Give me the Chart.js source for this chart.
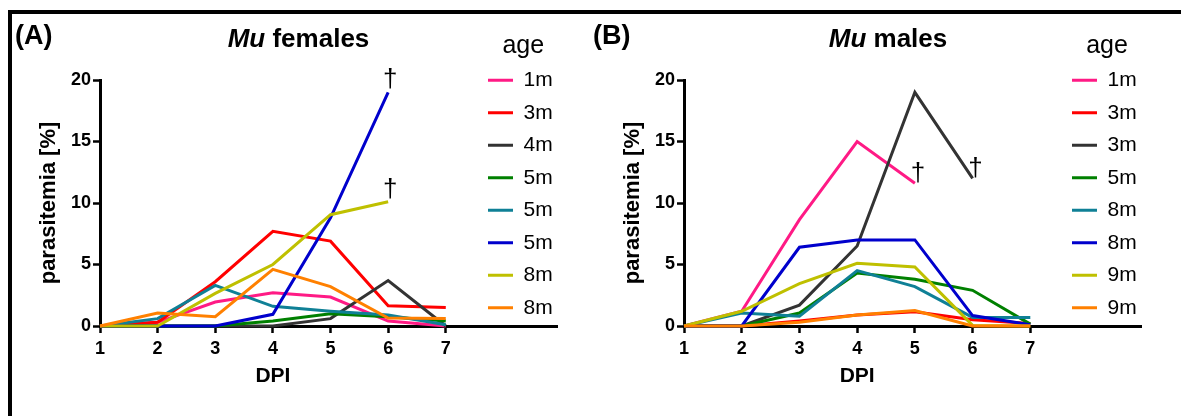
<!DOCTYPE html>
<html><head><meta charset="utf-8">
<script src="https://cdn.jsdelivr.net/npm/chart.js@4.4.1/dist/chart.umd.min.js"></script>
<style>
html,body{margin:0;padding:0;background:#fff;width:1181px;height:416px;overflow:hidden;}
#frame{position:absolute;left:8px;top:10px;width:1200px;height:420px;border-top:4px solid #000;border-left:4.5px solid #000;box-sizing:border-box;}
#ca{position:absolute;left:0;top:0;}
#cb{position:absolute;left:584px;top:0;}
</style></head><body>
<div id="frame"></div>
<canvas id="ca" width="584" height="416"></canvas>
<canvas id="cb" width="597" height="416"></canvas>
<script>
// ---------- data ----------
const days = [1, 2, 3, 4, 5, 6, 7];
const yTicks = [0, 5, 10, 15, 20];
const seriesColors = ['#ff1a85', '#ff0000', '#333333', '#008000', '#0f8096', '#0000cc', '#bfc000', '#ff8000'];

// (A) Mu females
const femaleAges = ['1m', '3m', '4m', '5m', '5m', '5m', '8m', '8m'];
const f_1m  = [0, 0.3, 1.95, 2.7, 2.35, 0.4, 0];
const f_3m  = [0, 0.3, 3.6, 7.7, 6.9, 1.65, 1.5];
const f_4m  = [0, 0, 0, 0, 0.6, 3.7, 0];
const f_5a  = [0, 0, 0, 0.4, 1.0, 0.75, 0.4];
const f_5b  = [0, 0.6, 3.3, 1.6, 1.2, 0.9, 0.1];
const f_5c  = [0, 0, 0, 0.95, 8.8, 19, null];
const f_8a  = [0, 0, 2.65, 5.0, 9.05, 10.1, null];
const f_8b  = [0, 1.05, 0.75, 4.6, 3.2, 0.65, 0.6];
const femaleSeries = [f_1m, f_3m, f_4m, f_5a, f_5b, f_5c, f_8a, f_8b];
const femaleDied = [5, 6];   // series marked with a dagger

// (B) Mu males
const maleAges = ['1m', '3m', '3m', '5m', '8m', '8m', '9m', '9m'];
const m_1m  = [0, 1.2, 8.65, 15, 11.6, null, null];
const m_3a  = [0, 0, 0.4, 0.9, 1.15, 0.5, 0.2];
const m_3b  = [0, 0, 1.7, 6.5, 19, 12, null];
const m_5m  = [0, 0, 1.05, 4.3, 3.8, 2.9, 0.15];
const m_8a  = [0, 1.05, 0.8, 4.5, 3.2, 0.7, 0.7];
const m_8b  = [0, 0, 6.4, 7.0, 7.0, 0.85, 0.1];
const m_9a  = [0, 1.2, 3.45, 5.1, 4.8, 0.05, 0];
const m_9b  = [0, 0, 0.3, 0.9, 1.25, 0, 0];
const maleSeries = [m_1m, m_3a, m_3b, m_5m, m_8a, m_8b, m_9a, m_9b];
const maleDied = [0, 2];

// ---------- drawing ----------
const FAM = '"Liberation Sans", Arial, Helvetica, sans-serif';

const panelPlugin = {
  id: 'panel',
  beforeDraw(chart, args, o) {
    const lg = chart.legend, ca = chart.chartArea;
    const pad = chart.options.plugins.legend.labels.padding;
    const left = ca.left + o.legendBoxX - pad;
    lg.left = left;
    lg.width = 2 * (ca.left + o.legendTitleX - left);
    lg.right = left + lg.width;
    lg.top = o.legendTop;
    lg.height = 380;
    lg.bottom = lg.top + lg.height;
  },
  afterDraw(chart, args, o) {
    const ctx = chart.ctx, xs = chart.scales.x;
    ctx.save();
    ctx.fillStyle = '#000';
    ctx.textBaseline = 'alphabetic';
    // panel letter
    ctx.font = 'bold 27px ' + FAM;
    ctx.textAlign = 'left';
    ctx.fillText(o.letter, o.letterX, o.letterY);
    // title: italic "Mu" + bold rest
    const f1 = 'italic bold 26px ' + FAM, f2 = 'bold 26px ' + FAM;
    ctx.font = f1; const w1 = ctx.measureText(o.titleItalic).width;
    ctx.font = f2; const w2 = ctx.measureText(o.titleRest).width;
    const tx = o.titleX - (w1 + w2) / 2;
    ctx.font = f1; ctx.fillText(o.titleItalic, tx, o.titleY);
    ctx.font = f2; ctx.fillText(o.titleRest, tx + w1, o.titleY);
    // x axis title centred on the DPI range
    ctx.font = 'bold 21px ' + FAM;
    ctx.textAlign = 'center';
    ctx.fillText(o.xTitle, xs.getPixelForValue((days[0] + days[days.length - 1]) / 2), o.xTitleY);
    // daggers at the last point of series that died
    ctx.font = '26px ' + FAM;
    o.died.forEach(i => {
      const pts = chart.getDatasetMeta(i).data;
      const p = pts[pts.length - 1];
      ctx.fillText('\u2020', p.x + o.daggerDx, p.y + o.daggerDy);
    });
    ctx.restore();
  }
};

function makeChart(id, ages, series, panel) {
  const n = series.length;
  const datasets = series.map((vals, i) => ({
    label: ages[i],
    data: days.map((d, k) => ({ x: d, y: vals[k] })).filter(p => p.y !== null),
    borderColor: seriesColors[i],
    backgroundColor: seriesColors[i],
    borderWidth: 3,
    pointRadius: 0,
    tension: 0,
    fill: false,
    clip: false,
    order: n - i
  }));
  const tickFont = { family: FAM, size: 18, weight: 'bold' };
  const grid = { drawOnChartArea: false, drawTicks: true, tickLength: 7, tickWidth: 2.5, tickColor: '#000', color: '#000' };
  const border = { display: true, color: '#000', width: 3 };
  return new Chart(document.getElementById(id), {
    type: 'line',
    data: { datasets },
    options: {
      responsive: false,
      animation: false,
      events: [],
      layout: { padding: { top: 80, right: panel.padRight, bottom: 0, left: 0 } },
      scales: {
        x: {
          type: 'linear', min: 1, max: 8.93,
          afterBuildTicks: s => { s.ticks = days.map(v => ({ value: v })); },
          afterFit: s => { s.height = 90; },
          ticks: { font: tickFont, color: '#000', padding: 5, maxRotation: 0, autoSkip: false },
          grid, border
        },
        y: {
          min: 0, max: 20,
          afterBuildTicks: s => { s.ticks = yTicks.map(v => ({ value: v })); },
          afterFit: s => { s.width = 100; },
          ticks: { font: tickFont, color: '#000', padding: 2 },
          grid, border,
          title: { display: true, text: 'parasitemia [%]', color: '#000',
                   font: { family: FAM, size: 22, weight: 'bold' }, padding: { top: 36, bottom: 0 } }
        }
      },
      plugins: {
        tooltip: { enabled: false },
        title: { display: false },
        legend: {
          position: 'chartArea', align: 'start',
          labels: {
            font: { family: FAM, size: 21 }, color: '#000',
            boxWidth: 25, boxHeight: 3, padding: 11.5,
            generateLabels: c => c.data.datasets.map((ds, i) => ({
              text: ds.label, fillStyle: ds.borderColor, strokeStyle: ds.borderColor,
              lineWidth: 0, hidden: false, datasetIndex: i
            }))
          },
          title: { display: true, text: 'age', position: 'center', color: '#000',
                   font: { family: FAM, size: 25, lineHeight: 1 }, padding: 0 }
        },
        panel: {
          letter: panel.letter, letterX: panel.letterX, letterY: 44,
          titleItalic: 'Mu', titleRest: panel.titleRest, titleX: panel.titleX, titleY: 47,
          xTitle: 'DPI', xTitleY: 381.5,
          legendBoxX: 388, legendTitleX: panel.legendTitleX, legendTop: 33.3,
          died: panel.died, daggerDx: panel.dx, daggerDy: panel.dy
        }
      }
    },
    plugins: [panelPlugin]
  });
}

makeChart('ca', femaleAges, femaleSeries,
  { letter: '(A)', letterX: 15, titleRest: ' females', titleX: 298.5, padRight: 27,
    legendTitleX: 423.3, died: femaleDied, dx: 2, dy: -5 });
makeChart('cb', maleAges, maleSeries,
  { letter: '(B)', letterX: 9, titleRest: ' males', titleX: 304, padRight: 39.3,
    legendTitleX: 423, died: maleDied, dx: 3, dy: -2.5 });
</script>
</body></html>
